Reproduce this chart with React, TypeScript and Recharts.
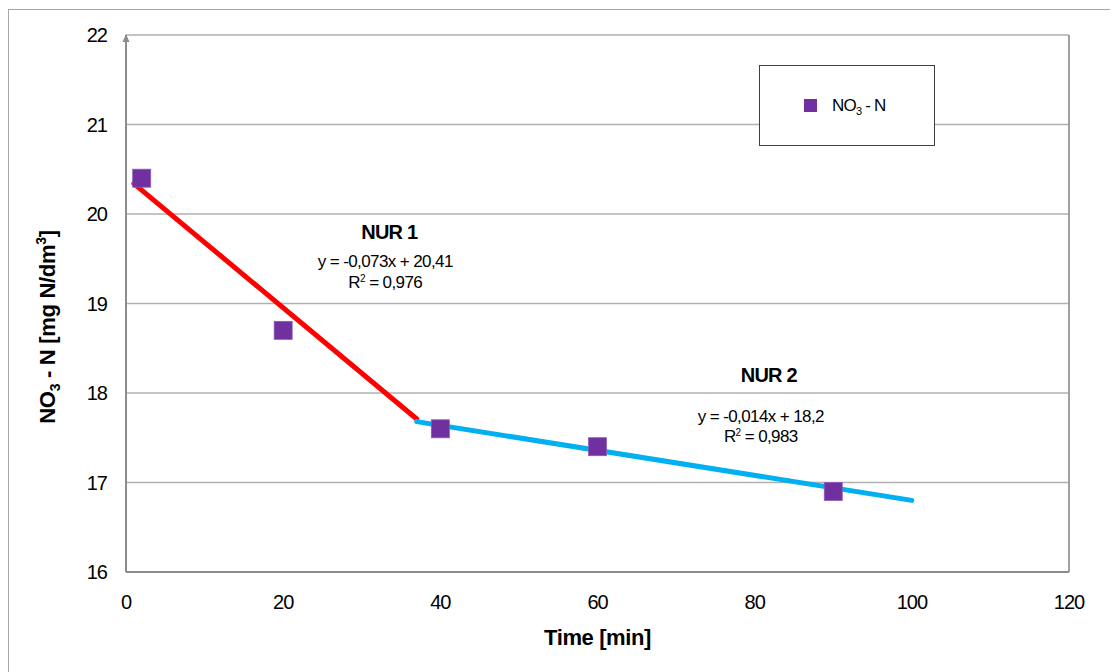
import React from 'react';
import {
  ComposedChart,
  Scatter,
  Line,
  XAxis,
  YAxis,
  CartesianGrid,
  ReferenceLine,
  ReferenceDot,
  Legend,
} from 'recharts';

// ---- data ----
const timeMin = [2, 20, 40, 60, 90];
const no3N = [20.4, 18.7, 17.6, 17.4, 16.9];
const xTicks = [0, 20, 40, 60, 80, 100, 120];
const yTicks = [16, 17, 18, 19, 20, 21, 22];
// trend line end points
const nur1X = [1, 37];
const nur1Y = [20.34, 17.71];
const nur2X = [37, 100];
const nur2Y = [17.68, 16.8];
// annotation texts and anchors
const nur1Title = 'NUR 1';
const nur1Eq = 'y = -0,073x + 20,41';
const nur1R2 = ' = 0,976';
const nur1Anchor = [33.5, 19.72];
const nur2Title = 'NUR 2';
const nur2Eq = 'y = -0,014x + 18,2';
const nur2R2 = ' = 0,983';
const nur2Anchor = [81.8, 18.12];
const seriesName = 'NO3 - N';

const points = timeMin.map((x, i) => ({ x, y: no3N[i] }));
const trend1 = nur1X.map((x, i) => ({ x, y: nur1Y[i] }));
const trend2 = nur2X.map((x, i) => ({ x, y: nur2Y[i] }));

const FF = "'Liberation Sans', Arial, Helvetica, sans-serif";
const PURPLE = '#7030A0';

const SquareShape = (props: any) => {
  const { cx, cy } = props;
  if (cx == null || cy == null) return null;
  return <rect x={cx - 9} y={cy - 9} width={18} height={18} fill={PURPLE} stroke="#8a5cb8" strokeWidth={0.8} />;
};

const ArrowShape = (props: any) => {
  const { cx, cy } = props;
  if (cx == null || cy == null) return null;
  return <path d={`M${cx},${cy - 1} L${cx - 3.5},${cy + 7} L${cx + 3.5},${cy + 7} Z`} fill="#8c8c8c" />;
};

const makeAnnotation = (title: string, eq: string, r2: string, eqDx: number, eqDy: number, r2Dy: number) =>
  (props: any) => {
    const vb = props.viewBox || {};
    const cx = (vb.x ?? 0) + (vb.width ?? 0) / 2;
    const cy = (vb.y ?? 0) + (vb.height ?? 0) / 2;
    return (
      <g fontFamily={FF} fill="#000">
        <text x={cx} y={cy} textAnchor="middle" fontSize={20} fontWeight="bold" letterSpacing={-0.8}>
          {title}
        </text>
        <text x={cx + eqDx} y={cy + eqDy} textAnchor="middle" fontSize={17} letterSpacing={-0.6}>
          {eq}
        </text>
        <text x={cx + eqDx} y={cy + r2Dy} textAnchor="middle" fontSize={17} letterSpacing={-0.6}>
          R<tspan fontSize={10} dy={-6}>2</tspan>
          <tspan dy={6}>{r2}</tspan>
        </text>
      </g>
    );
  };

const YLabel = (props: any) => {
  const vb = props.viewBox || { x: 0, y: 27, width: 118, height: 537 };
  const x = vb.x + 47;
  const y = vb.y + 292;
  return (
    <text
      x={x}
      y={y}
      transform={`rotate(-90, ${x}, ${y})`}
      textAnchor="middle"
      fontFamily={FF}
      fontSize={22}
      fontWeight="bold"
      fill="#000"
      letterSpacing={-0.3}
    >
      NO<tspan fontSize={14} dy={5}>3</tspan>
      <tspan dy={-5}>{' - N  [mg N/dm'}</tspan>
      <tspan fontSize={14} dy={-9}>3</tspan>
      <tspan dy={9}>]</tspan>
    </text>
  );
};

const XLabel = (props: any) => {
  const vb = props.viewBox || { x: 118, y: 564, width: 943, height: 100 };
  return (
    <text
      x={vb.x + vb.width / 2}
      y={vb.y + 73}
      textAnchor="middle"
      fontFamily={FF}
      fontSize={22}
      fontWeight="bold"
      fill="#000"
      letterSpacing={-0.4}
    >
      Time [min]
    </text>
  );
};

const LegendBox = () => (
  <div
    style={{
      width: 176,
      height: 81,
      boxSizing: 'border-box',
      border: '1px solid #404040',
      background: '#fff',
    }}
  >
    <svg width={174} height={79} style={{ display: 'block' }}>
      <rect x={44} y={33} width={13} height={13} fill={PURPLE} />
      <text x={72} y={45} fontFamily={FF} fontSize={17} letterSpacing={-0.8} fill="#000">
        NO<tspan fontSize={11} dy={4}>3</tspan>
        <tspan dy={-4}>{' - N'}</tspan>
      </text>
    </svg>
  </div>
);

export default function App() {
  return (
    <div style={{ position: 'relative', width: 1110, height: 664, overflow: 'hidden', background: '#fff' }}>
      <div
        style={{
          position: 'absolute',
          left: 0,
          top: 1,
          width: 1300,
          height: 900,
          border: '1px solid #a6a6a6',
        }}
      />
      <div style={{ position: 'absolute', left: 0, top: 0 }}>
        <ComposedChart width={1110} height={664} margin={{ top: 27, right: 49, bottom: 0, left: 0 }}>
          <CartesianGrid vertical={false} stroke="#b0b0b0" strokeWidth={1.5} />
          <XAxis
            type="number"
            dataKey="x"
            domain={[0, 120]}
            ticks={xTicks}
            height={100}
            tickLine={false}
            tickSize={0}
            tickMargin={23}
            axisLine={{ stroke: '#8c8c8c', strokeWidth: 2 }}
            tick={{ fill: '#000', fontSize: 20, fontFamily: FF, letterSpacing: -1 }}
            allowDataOverflow
            label={<XLabel />}
          />
          <YAxis
            type="number"
            dataKey="y"
            domain={[16, 22]}
            ticks={yTicks}
            width={118}
            tickLine={false}
            tickSize={0}
            tickMargin={19}
            axisLine={{ stroke: '#8c8c8c', strokeWidth: 2 }}
            tick={{ fill: '#000', fontSize: 20, fontFamily: FF, letterSpacing: -1 }}
            allowDataOverflow
            label={<YLabel />}
          />
          <ReferenceLine x={120} stroke="#a0a0a0" strokeWidth={2} />
          <ReferenceDot x={0} y={22} r={3} shape={<ArrowShape />} />
          <Line
            data={trend1}
            dataKey="y"
            type="linear"
            stroke="#FF0000"
            strokeWidth={5}
            strokeLinecap="round"
            dot={false}
            activeDot={false}
            legendType="none"
            isAnimationActive={false}
          />
          <Line
            data={trend2}
            dataKey="y"
            type="linear"
            stroke="#00B0F0"
            strokeWidth={5}
            strokeLinecap="round"
            dot={false}
            activeDot={false}
            legendType="none"
            isAnimationActive={false}
          />
          <Scatter
            name={seriesName}
            data={points}
            dataKey="y"
            fill={PURPLE}
            shape={<SquareShape />}
            isAnimationActive={false}
          />
          <ReferenceDot
            x={nur1Anchor[0]}
            y={nur1Anchor[1]}
            r={0}
            fill="none"
            stroke="none"
            label={makeAnnotation(nur1Title, nur1Eq, nur1R2, -4, 28, 49)}
          />
          <ReferenceDot
            x={nur2Anchor[0]}
            y={nur2Anchor[1]}
            r={0}
            fill="none"
            stroke="none"
            label={makeAnnotation(nur2Title, nur2Eq, nur2R2, -8, 40, 60)}
          />
          <Legend
            layout="horizontal"
            verticalAlign="middle"
            align="center"
            content={<LegendBox />}
            wrapperStyle={{ position: 'absolute', left: 751, top: 57, width: 176, height: 81 }}
          />
        </ComposedChart>
      </div>
    </div>
  );
}
